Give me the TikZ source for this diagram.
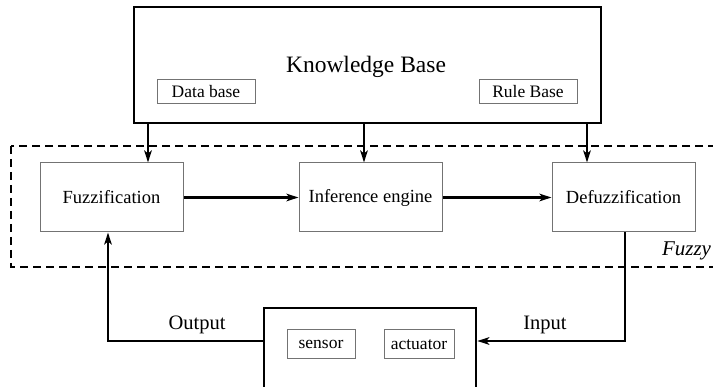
\documentclass[tikz,border=0pt]{standalone}
\usepackage{fontspec}
\setmainfont{Liberation Serif}
\usetikzlibrary{arrows.meta,calc}

\tikzset{
  kbox/.style={draw=black, line width=2.5pt, inner sep=0pt},
  thinbox/.style={draw=black!55, line width=1pt, fill=white, inner sep=0pt,
                  font=\fontsize{17.5}{20}\selectfont},
  stagebox/.style={draw=black!55, line width=1pt, fill=white, inner sep=0pt,
                   minimum width=143pt, minimum height=69pt,
                   font=\fontsize{18.5}{21}\selectfont},
  flow/.style={line width=2.5pt, -{Stealth[length=12pt,width=7.5pt,inset=3pt]}},
  fuzzyzone/.style={draw, line width=2pt, dash pattern=on 8pt off 5pt},
  lbl/.style={inner sep=0pt, anchor=base, font=\fontsize{20.5}{24}\selectfont}
}

\begin{document}
\begin{tikzpicture}[x=1pt, y=-1pt]
  \clip (0,0) rectangle (713,387);
  \fill[white] (0,0) rectangle (713,387);

  % fuzzy region (runs past the right margin)
  \draw[fuzzyzone] (11,146) rectangle (730,267);
  \node[lbl, font=\fontsize{21}{24}\selectfont\itshape] (fuzzylbl) at (686.5,256) {Fuzzy};

  % knowledge base
  \node[kbox, minimum width=467pt, minimum height=116pt] (kb) at (367.5,65) {};
  \node[inner sep=0pt, anchor=base, font=\fontsize{23.5}{27}\selectfont] (kbtitle) at (366,73) {Knowledge Base};
  \node[thinbox, minimum width=98pt, minimum height=24pt] (db) at (206,92) {Data base};
  \node[thinbox, minimum width=98pt, minimum height=24pt] (rb) at (528,92) {Rule Base};

  % processing stages
  \node[stagebox] (fuzz) at (111.5,197.5) {Fuzzification};
  \node[stagebox] (inf) at (370.5,197.5) {Inference engine};
  \node[stagebox] (defuzz) at (623.5,197.5) {Defuzzification};

  % plant (its lower edge sits on the page border)
  \node[kbox, minimum width=212pt, minimum height=80pt] (plant) at (370,348) {};
  \node[thinbox, minimum width=68pt, minimum height=29pt] (sensor) at (321,344.5) {sensor};
  \node[thinbox, minimum width=70pt, minimum height=29pt] (actuator) at (419,344.5) {actuator};

  % knowledge base feeds
  \coordinate (c1) at (148,0);
  \coordinate (c2) at (364,0);
  \coordinate (c3) at (587,0);
  \draw[flow] (kb.south -| c1) -- (fuzz.north -| c1);
  \draw[flow] (kb.south -| c2) -- (inf.north -| c2);
  \draw[flow] (kb.south -| c3) -- (defuzz.north -| c3);

  % stage chain
  \draw[flow] (fuzz.east) -- (inf.west);
  \draw[flow] (inf.east) -- (defuzz.west);

  % loop through the plant
  \coordinate (outx) at (108,341);
  \coordinate (inx) at (625,341);
  \draw[flow] (plant.west |- outx) -- (outx) -- (outx |- fuzz.south);
  \draw[flow] (inx |- defuzz.south) -- (inx) -- (plant.east |- inx);
  \node[lbl] (outlbl) at (197,330) {Output};
  \node[lbl] (inlbl) at (545,330) {Input};
\end{tikzpicture}
\end{document}
